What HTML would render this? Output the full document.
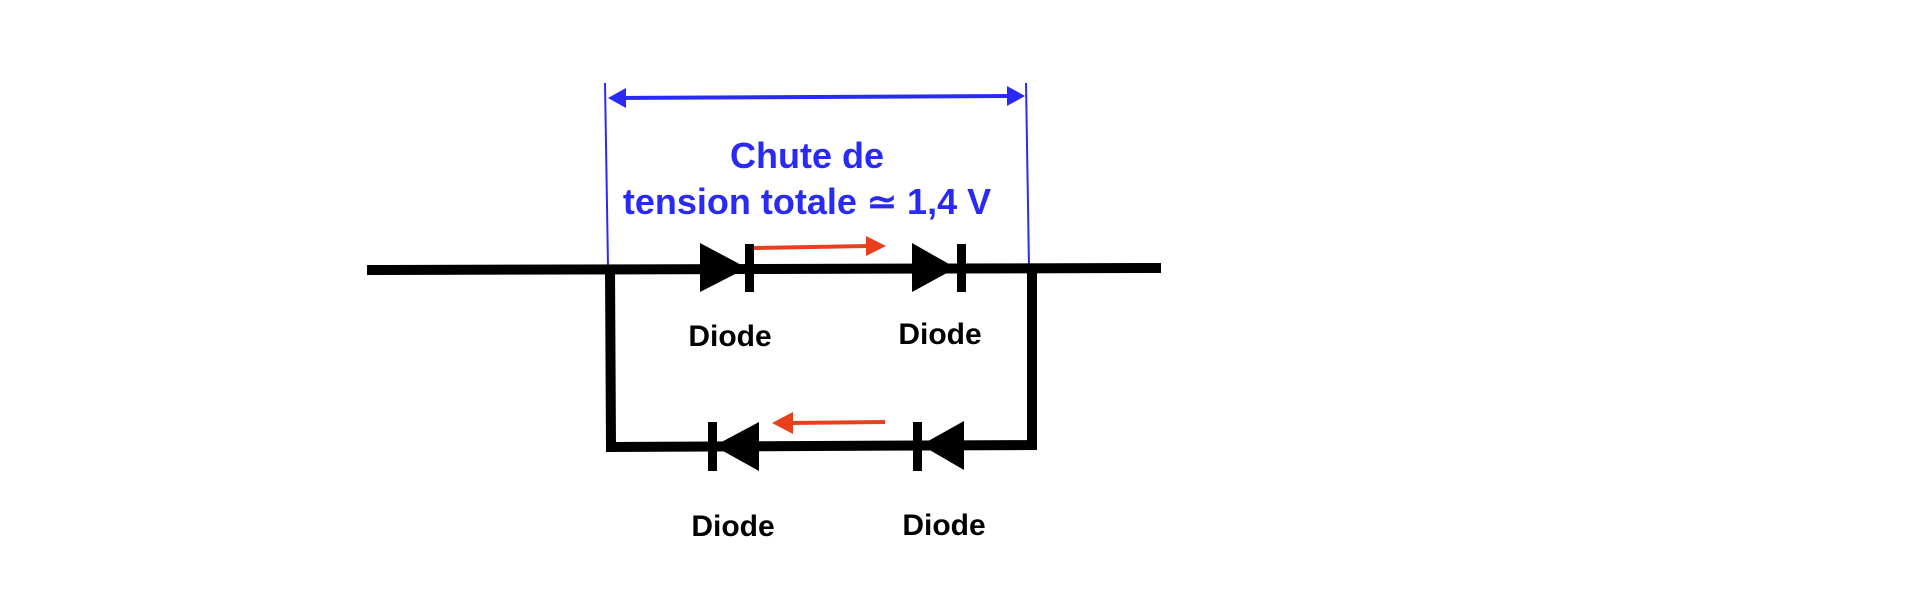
<!DOCTYPE html>
<html><head><meta charset="utf-8"><style>
html,body{margin:0;padding:0;background:#fff;}
svg{display:block}
text{font-family:"Liberation Sans",Arial,sans-serif;font-weight:bold}
</style></head><body>
<svg width="1920" height="612" viewBox="0 0 1920 612" xmlns="http://www.w3.org/2000/svg">
<g stroke="#2a2af5" fill="#2a2af5">
<line x1="605" y1="83" x2="608" y2="267" stroke-width="2"/>
<line x1="1026" y1="83" x2="1029" y2="267" stroke-width="2"/>
<line x1="620" y1="98" x2="1012" y2="96" stroke-width="4"/>
<polygon points="608,98 626,88 626,108" stroke="none"/>
<polygon points="1025,96 1007,86 1007,106" stroke="none"/>
</g>
<text x="807" y="168" font-size="36" fill="#2a2af5" text-anchor="middle">Chute de</text>
<text x="807" y="214" font-size="36" fill="#2a2af5" text-anchor="middle">tension totale ≃ 1,4 V</text>
<g stroke="#000" fill="none" stroke-width="10">
<line x1="367" y1="270" x2="1161" y2="268"/>
<polyline points="610,268 611,447 1032,445 1032,268"/>
</g>
<g fill="#000">
<polygon points="700,243 747,268 700,292"/>
<rect x="745" y="244" width="9" height="48"/>
<polygon points="912,243 956,268 912,292"/>
<rect x="957" y="244" width="9" height="48"/>
<polygon points="759,422 714,446 759,471"/>
<rect x="708" y="422" width="9" height="49"/>
<polygon points="964,421 921,445 964,470"/>
<rect x="913" y="422" width="9" height="49"/>
</g>
<g stroke="#e8401c" fill="#e8401c">
<line x1="754" y1="248" x2="868" y2="246" stroke-width="4"/>
<polygon points="886,246 866,236 866,256" stroke="none"/>
<line x1="885" y1="422" x2="790" y2="423" stroke-width="4"/>
<polygon points="772,423 793,412 793,434" stroke="none"/>
</g>
<g font-size="30" fill="#000" text-anchor="middle">
<text x="730" y="346">Diode</text>
<text x="940" y="344">Diode</text>
<text x="733" y="536">Diode</text>
<text x="944" y="535">Diode</text>
</g>
</svg>
</body></html>
